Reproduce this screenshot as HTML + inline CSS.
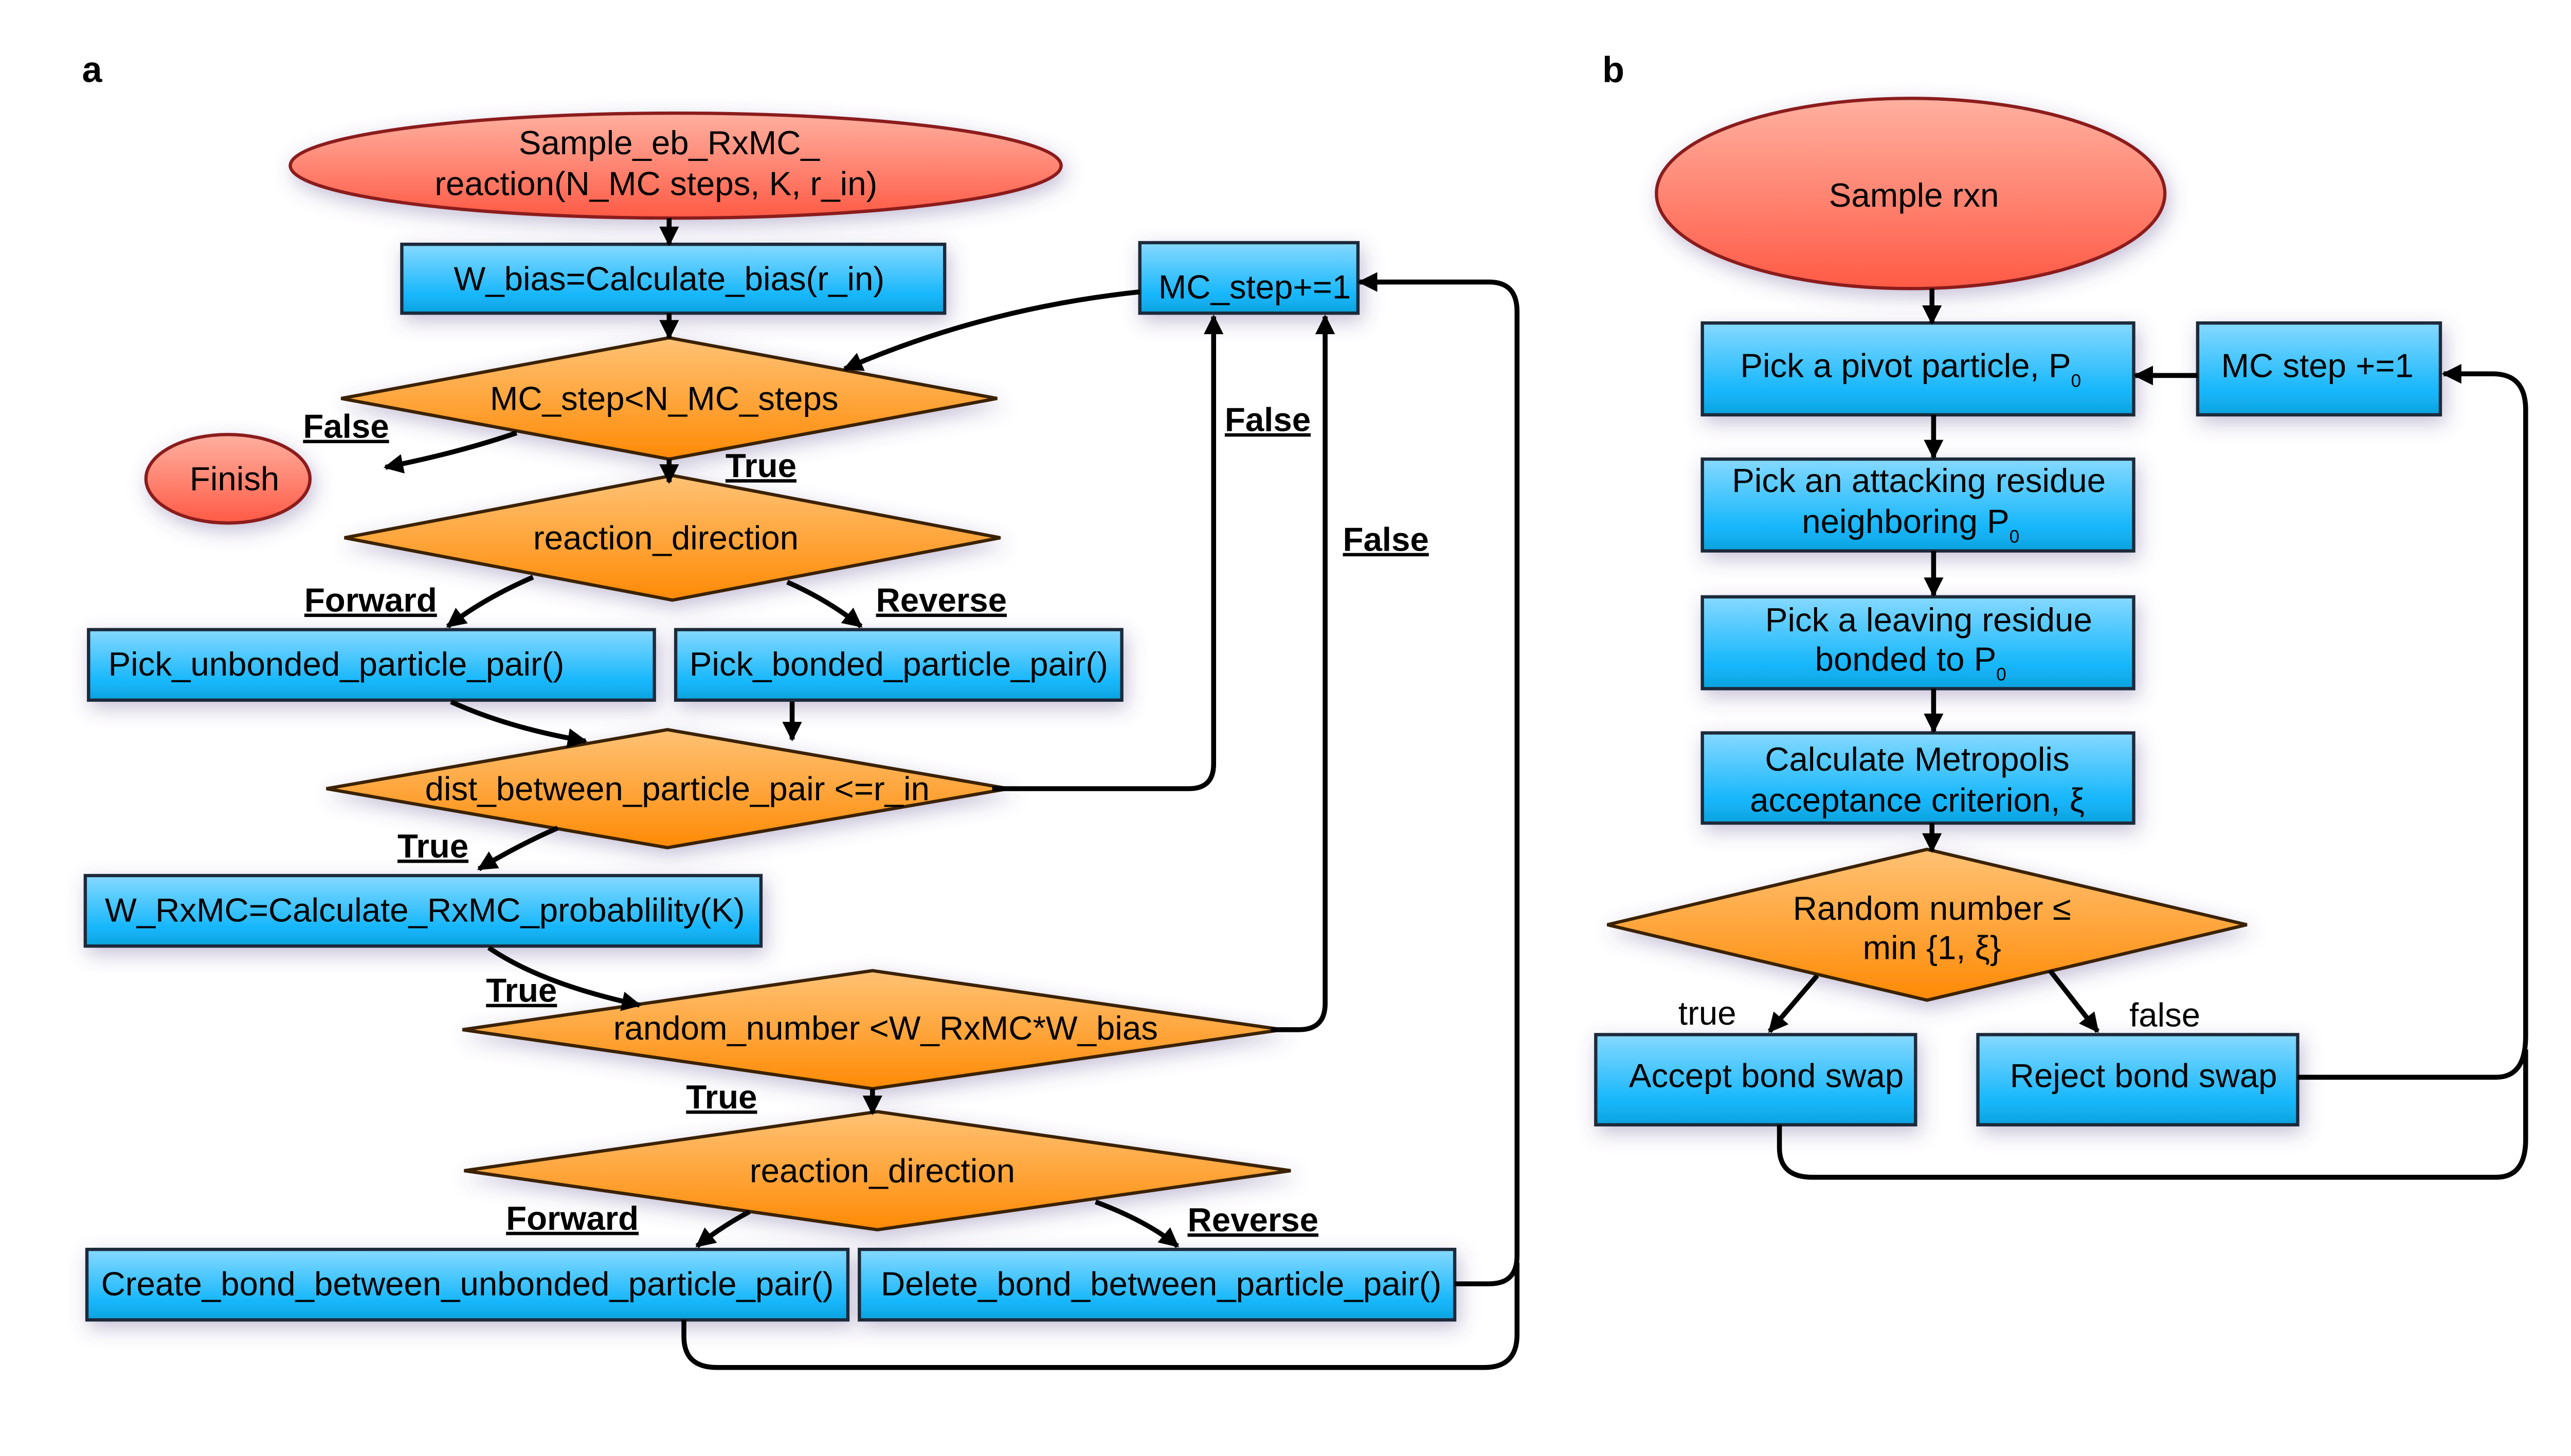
<!DOCTYPE html>
<html><head><meta charset="utf-8"><style>
html,body{margin:0;padding:0;background:#fff;}
svg{display:block;}
text{font-family:"Liberation Sans",Arial,sans-serif;font-size:20.5px;fill:#000;}
.lb{font-weight:bold;text-decoration:underline;}
.cn{fill:none;stroke:#000;stroke-width:3;}
</style></head><body>
<svg width="5100" height="2832" viewBox="0 0 1599 888" preserveAspectRatio="none" xmlns="http://www.w3.org/2000/svg">
<defs>
<linearGradient id="gb" x1="0" y1="0" x2="0" y2="1"><stop offset="0" stop-color="#86d9ff"/><stop offset="0.75" stop-color="#14b6fb"/><stop offset="1" stop-color="#0fa2dc"/></linearGradient>
<linearGradient id="go" x1="0" y1="0" x2="0" y2="1"><stop offset="0" stop-color="#ffc275"/><stop offset="1" stop-color="#ff8a05"/></linearGradient>
<linearGradient id="gr" x1="0" y1="0" x2="0" y2="1"><stop offset="0" stop-color="#ffb0a0"/><stop offset="1" stop-color="#ff5a45"/></linearGradient>
<filter id="sh" x="-20%" y="-40%" width="140%" height="180%"><feDropShadow dx="2" dy="4" stdDeviation="6" flood-color="#5a4a8a" flood-opacity="0.35"/></filter>
<marker id="ar" viewBox="0 0 10 10" refX="9" refY="5" markerWidth="4" markerHeight="4" orient="auto" markerUnits="strokeWidth"><path d="M0,0 L10,5 L0,10 z" fill="#000"/></marker>
</defs>
<text x="50" y="50" style="font-weight:bold;font-size:22px">a</text>
<text x="977" y="50" style="font-weight:bold;font-size:22px">b</text>

<g stroke-width="2">
<ellipse cx="412" cy="101" rx="235" ry="32" fill="url(#gr)" stroke="#8b1a1a" filter="url(#sh)"/>
<rect x="245" y="149" width="331" height="42" fill="url(#gb)" stroke="#1a2a3a" filter="url(#sh)"/>
<polygon points="208,243 408,206 608,243 408,280" fill="url(#go)" stroke="#3a2000" filter="url(#sh)"/>
<ellipse cx="139" cy="292" rx="50" ry="27" fill="url(#gr)" stroke="#8b1a1a" filter="url(#sh)"/>
<polygon points="210,328 410,290 610,328 410,366" fill="url(#go)" stroke="#3a2000" filter="url(#sh)"/>
<rect x="54" y="384" width="345" height="43" fill="url(#gb)" stroke="#1a2a3a" filter="url(#sh)"/>
<rect x="412" y="384" width="272" height="43" fill="url(#gb)" stroke="#1a2a3a" filter="url(#sh)"/>
<polygon points="199,481 407,445 615,481 407,517" fill="url(#go)" stroke="#3a2000" filter="url(#sh)"/>
<rect x="52" y="534" width="412" height="43" fill="url(#gb)" stroke="#1a2a3a" filter="url(#sh)"/>
<polygon points="282,628 532,592 782,628 532,664" fill="url(#go)" stroke="#3a2000" filter="url(#sh)"/>
<polygon points="283,714 535,678 787,714 535,750" fill="url(#go)" stroke="#3a2000" filter="url(#sh)"/>
<rect x="53" y="762" width="464" height="43" fill="url(#gb)" stroke="#1a2a3a" filter="url(#sh)"/>
<rect x="524" y="762" width="363" height="43" fill="url(#gb)" stroke="#1a2a3a" filter="url(#sh)"/>
<rect x="695" y="148" width="133" height="43" fill="url(#gb)" stroke="#1a2a3a" filter="url(#sh)"/>
<ellipse cx="1165" cy="118" rx="155" ry="58" fill="url(#gr)" stroke="#8b1a1a" filter="url(#sh)"/>
<rect x="1038" y="197" width="263" height="56" fill="url(#gb)" stroke="#1a2a3a" filter="url(#sh)"/>
<rect x="1340" y="197" width="148" height="56" fill="url(#gb)" stroke="#1a2a3a" filter="url(#sh)"/>
<rect x="1038" y="280" width="263" height="56" fill="url(#gb)" stroke="#1a2a3a" filter="url(#sh)"/>
<rect x="1038" y="364" width="263" height="56" fill="url(#gb)" stroke="#1a2a3a" filter="url(#sh)"/>
<rect x="1038" y="447" width="263" height="55" fill="url(#gb)" stroke="#1a2a3a" filter="url(#sh)"/>
<polygon points="980,564 1175,518 1370,564 1175,610" fill="url(#go)" stroke="#3a2000" filter="url(#sh)"/>
<rect x="973" y="631" width="195" height="55" fill="url(#gb)" stroke="#1a2a3a" filter="url(#sh)"/>
<rect x="1206" y="631" width="195" height="55" fill="url(#gb)" stroke="#1a2a3a" filter="url(#sh)"/>
</g>

<g class="cn">
<path d="M408,133 V149" marker-end="url(#ar)"/>
<path d="M408,191 V206" marker-end="url(#ar)"/>
<path d="M315,264 Q280,276 235,285" marker-end="url(#ar)"/>
<path d="M408,280 V294" marker-end="url(#ar)"/>
<path d="M325,352 Q295,365 273,382" marker-end="url(#ar)"/>
<path d="M480,355 Q505,366 525,382" marker-end="url(#ar)"/>
<path d="M275,428 Q310,444 357,452" marker-end="url(#ar)"/>
<path d="M483,428 V451" marker-end="url(#ar)"/>
<path d="M605,481 H725 Q740,481 740,466 V193" marker-end="url(#ar)"/>
<path d="M340,505 Q315,516 292,530" marker-end="url(#ar)"/>
<path d="M298,578 Q330,600 390,613" marker-end="url(#ar)"/>
<path d="M775,628 H792 Q808,628 808,612 V193" marker-end="url(#ar)"/>
<path d="M532,664 V679" marker-end="url(#ar)"/>
<path d="M457,739 Q440,748 425,760" marker-end="url(#ar)"/>
<path d="M668,733 Q700,745 718,760" marker-end="url(#ar)"/>
<path d="M887,783 H908 Q925,783 925,766 V190 Q925,172 908,172 H829" marker-end="url(#ar)"/>
<path d="M417,805 V815 Q417,834 437,834 H905 Q925,834 925,814 V770"/>
<path d="M695,178 Q600,188 515,225" marker-end="url(#ar)"/>
<path d="M1178,176 V197" marker-end="url(#ar)"/>
<path d="M1340,229 H1302" marker-end="url(#ar)"/>
<path d="M1179,253 V279" marker-end="url(#ar)"/>
<path d="M1179,336 V363" marker-end="url(#ar)"/>
<path d="M1179,420 V446" marker-end="url(#ar)"/>
<path d="M1178,502 V519" marker-end="url(#ar)"/>
<path d="M1108,595 L1079,629" marker-end="url(#ar)"/>
<path d="M1250,592 L1279,629" marker-end="url(#ar)"/>
<path d="M1401,657 H1522 Q1540,657 1540,632 V250 Q1540,228 1520,228 H1490" marker-end="url(#ar)"/>
<path d="M1085,686 V700 Q1085,718 1105,718 H1522 Q1540,718 1540,695 V640"/>
</g>

<g text-anchor="middle">
<text x="408" y="94">Sample_eb_RxMC_</text>
<text x="400" y="119">reaction(N_MC steps, K, r_in)</text>
<text x="408" y="177">W_bias=Calculate_bias(r_in)</text>
<text x="405" y="250">MC_step&lt;N_MC_steps</text>
<text x="143" y="299">Finish</text>
<text x="406" y="335">reaction_direction</text>
<text x="548" y="412">Pick_bonded_particle_pair()</text>
<text x="413" y="488">dist_between_particle_pair &lt;=r_in</text>
<text x="540" y="634">random_number &lt;W_RxMC*W_bias</text>
<text x="538" y="721">reaction_direction</text>
<text x="285" y="790">Create_bond_between_unbonded_particle_pair()</text>
<text x="708" y="790">Delete_bond_between_particle_pair()</text>
<text x="765" y="182">MC_step+=1</text>
<text class="lb" x="211" y="267">False</text>
<text class="lb" x="464" y="291">True</text>
<text class="lb" x="226" y="373">Forward</text>
<text class="lb" x="574" y="373">Reverse</text>
<text class="lb" x="264" y="523">True</text>
<text class="lb" x="318" y="611">True</text>
<text class="lb" x="440" y="676">True</text>
<text class="lb" x="349" y="750">Forward</text>
<text class="lb" x="764" y="751">Reverse</text>
<text class="lb" x="773" y="263">False</text>
<text class="lb" x="845" y="336">False</text>
<text x="1167" y="126">Sample rxn</text>
<text x="1165" y="230">Pick a pivot particle, P<tspan font-size="11" dy="6">0</tspan></text>
<text x="1413" y="230">MC step +=1</text>
<text x="1170" y="300">Pick an attacking residue</text>
<text x="1165" y="325">neighboring P<tspan font-size="11" dy="6">0</tspan></text>
<text x="1176" y="385">Pick a leaving residue</text>
<text x="1165" y="409">bonded to P<tspan font-size="11" dy="6">0</tspan></text>
<text x="1169" y="470">Calculate Metropolis</text>
<text x="1169" y="495">acceptance criterion, ξ</text>
<text x="1178" y="561">Random number ≤</text>
<text x="1178" y="585">min {1, ξ}</text>
<text x="1041" y="625">true</text>
<text x="1320" y="626">false</text>
<text x="1077" y="663">Accept bond swap</text>
<text x="1307" y="663">Reject bond swap</text>
</g>
<text x="66" y="412">Pick_unbonded_particle_pair()</text>
<text x="64" y="562">W_RxMC=Calculate_RxMC_probablility(K)</text>
</svg>
</body></html>
